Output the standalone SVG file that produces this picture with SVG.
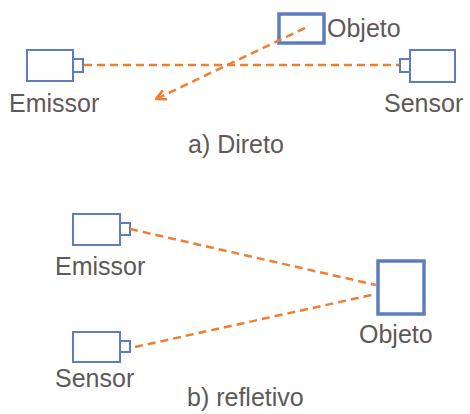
<svg xmlns="http://www.w3.org/2000/svg" width="470" height="414" viewBox="0 0 470 414">
<style>
.dev{fill:#fff;stroke:#5d7cc2;stroke-width:2}
.obj{fill:#fff;stroke:#5d7cc2;stroke-width:3.5}
.lbl{font-family:"Liberation Sans",Arial,sans-serif;font-size:25px;fill:#5e5957}
.cap{font-family:"Liberation Sans",Arial,sans-serif;font-size:25px;fill:#5e5957}
.ray{fill:none;stroke:#ef7f2e;stroke-width:2.5;stroke-dasharray:8 5}
</style>
<defs>
<marker id="arr" viewBox="0 0 12 12" refX="11" refY="6" markerWidth="12" markerHeight="12" markerUnits="userSpaceOnUse" orient="auto">
<path d="M1,1 L11,6 L1,11" fill="none" stroke="#ef7f2e" stroke-width="2.6"/>
</marker>
</defs>
<g id="emissor-a">
<rect class="dev" x="27" y="50" width="46" height="31"/>
<rect class="dev" x="73" y="59" width="10" height="13"/>
<text class="lbl" x="9" y="112">Emissor</text>
</g>
<g id="objeto-a">
<rect class="obj" x="279" y="14" width="45" height="29"/>
<text class="lbl" x="327" y="37">Objeto</text>
</g>
<g id="sensor-a">
<rect class="dev" x="410" y="50" width="45" height="32"/>
<rect class="dev" x="400" y="59" width="10" height="13"/>
<text class="lbl" x="384" y="112">Sensor</text>
</g>
<text class="cap" x="188" y="153">a) Direto</text>
<g id="emissor-b">
<rect class="dev" x="73" y="214" width="47" height="31"/>
<rect class="dev" x="120" y="223" width="10" height="12"/>
<text class="lbl" x="55" y="275">Emissor</text>
</g>
<g id="sensor-b">
<rect class="dev" x="73" y="332" width="47" height="30"/>
<rect class="dev" x="120" y="341" width="10" height="11"/>
<text class="lbl" x="55" y="387">Sensor</text>
</g>
<g id="objeto-b">
<rect class="obj" x="378" y="261" width="46" height="53"/>
<text class="lbl" x="359" y="343">Objeto</text>
</g>
<text class="cap" x="187" y="406">b) refletivo</text>
<g id="connectors">
<line class="ray" x1="84" y1="65" x2="399" y2="65"/>
<line class="ray" x1="305" y1="28" x2="156" y2="99" marker-end="url(#arr)"/>
<line class="ray" x1="130" y1="229" x2="376" y2="285"/>
<line class="ray" x1="135" y1="347" x2="376" y2="294"/>
</g>
</svg>
